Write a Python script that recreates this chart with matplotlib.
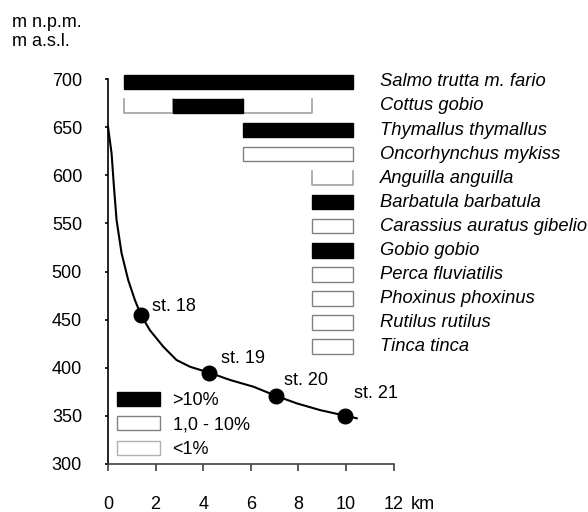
import matplotlib
matplotlib.use("Agg")
import matplotlib.pyplot as plt
from matplotlib.patches import Patch

plt.rcParams['font.family'] = ['Liberation Sans', 'DejaVu Sans']
plt.rcParams['font.size'] = 13

# ---- data ----
species = ["Salmo trutta m. fario", "Cottus gobio", "Thymallus thymallus",
           "Oncorhynchus mykiss", "Anguilla anguilla", "Barbatula barbatula",
           "Carassius auratus gibelio", "Gobio gobio", "Perca fluviatilis",
           "Phoxinus phoxinus", "Rutilus rutilus", "Tinca tinca"]
row_alt = [697, 672, 647, 622, 597, 572, 547, 522, 497, 472, 447, 422]
# segments: species index, start km, end km, abundance class
seg_species = [0, 1, 1, 1, 2, 3, 4, 5, 6, 7, 8, 9, 10, 11]
seg_start = [0.67, 0.67, 2.72, 5.66, 5.66, 5.66, 8.57, 8.57, 8.57, 8.57, 8.57, 8.57, 8.57, 8.57]
seg_end = [10.3, 2.72, 5.66, 8.57, 10.3, 10.3, 10.3, 10.3, 10.3, 10.3, 10.3, 10.3, 10.3, 10.3]
seg_class = [">10%", "<1%", ">10%", "<1%", ">10%", "1,0 - 10%", "<1%", ">10%",
             "1,0 - 10%", ">10%", "1,0 - 10%", "1,0 - 10%", "1,0 - 10%", "1,0 - 10%"]

curve_km = [0.0, 0.15, 0.25, 0.36, 0.57, 0.85, 1.13, 1.38, 1.76, 2.32, 2.88, 3.45,
            4.24, 5.13, 6.11, 7.04, 7.93, 8.91, 9.96, 10.45]
curve_alt = [650.4, 622.8, 588, 553.5, 519, 491, 470.4, 455, 439, 422, 408, 401,
             395, 387.3, 380.3, 371, 363, 356, 350.2, 347.5]
station_names = ["st. 18", "st. 19", "st. 20", "st. 21"]
station_km = [1.38, 4.24, 7.04, 9.96]
station_alt = [455, 395, 371, 350.2]
label_offsets = [(8.2, 2.6), (8.6, 7.2), (6.0, 7.7), (6.5, 12.7)]  # points

xticks = [0, 2, 4, 6, 8, 10, 12]
yticks = [300, 350, 400, 450, 500, 550, 600, 650, 700]

# ---- figure ----
fig = plt.figure(figsize=(5.88, 5.12), dpi=100)
ax = fig.add_axes([108/588, (512-464)/512, 285.6/588, 385/512])
ax.set_xlim(0, 12)
ax.set_ylim(300, 700)

bar_h = 15
styles = {">10%": dict(color="black", edgecolor="black"),
          "1,0 - 10%": dict(color="white", edgecolor="#808080"),
          "<1%": dict(color="white", edgecolor="#b0b0b0")}

for si, s, e, c in zip(seg_species, seg_start, seg_end, seg_class):
    y = row_alt[si]
    if c == "<1%":
        ax.barh(y, e - s, left=s, height=bar_h, color="white", linewidth=0, clip_on=False, zorder=2)
        ax.plot([s, s, e, e], [y + bar_h/2, y - bar_h/2, y - bar_h/2, y + bar_h/2],
                color="#a0a0a0", lw=1.2, clip_on=False, zorder=2)
    else:
        st = styles[c]
        ax.barh(y, e - s, left=s, height=bar_h, color=st["color"], edgecolor=st["edgecolor"],
                linewidth=1.0, clip_on=False, zorder=3)

for name, y in zip(species, row_alt):
    ax.text(11.43, y, name, style="italic", va="center", ha="left", fontsize=13.2, clip_on=False)

ax.plot(curve_km, curve_alt, color="black", lw=1.5, zorder=4, clip_on=False)
ax.plot(station_km, station_alt, "o", color="black", markersize=10.5, zorder=5, clip_on=False)
for n, x, y, off in zip(station_names, station_km, station_alt, label_offsets):
    ax.annotate(n, (x, y), xytext=off, textcoords="offset points", ha="left", va="baseline",
                fontsize=13)

# axes styling
for sp in ["top", "right"]:
    ax.spines[sp].set_visible(False)
ax.spines["left"].set_color("black")
ax.spines["bottom"].set_color("#404040")
ax.spines["left"].set_linewidth(1.2)
ax.spines["bottom"].set_linewidth(1.2)
ax.set_yticks(yticks)
ax.set_yticklabels([str(v) for v in yticks])
ax.set_xticks(xticks)
ax.set_xticklabels([str(v) for v in xticks])
ax.tick_params(axis="y", direction="out", length=2, pad=16.7, width=1.2)
ax.tick_params(axis="x", direction="out", length=5, pad=18, width=1.2, colors="#404040", labelcolor="black")
ax.annotate("km", xy=(12, 0), xycoords=("data", "axes fraction"), xytext=(12.2, -23),
            textcoords="offset points", ha="left", va="top", fontsize=13)

fig.text(12/588, 1 - 22.5/512, "m n.p.m.", ha="left", va="center", fontsize=13)
fig.text(12/588, 1 - 41/512, "m a.s.l.", ha="left", va="center", fontsize=13)

handles = [Patch(facecolor="black", edgecolor="black", label=">10%"),
           Patch(facecolor="white", edgecolor="#808080", label="1,0 - 10%"),
           Patch(facecolor="white", edgecolor="#b0b0b0", label="<1%")]
ax.legend(handles=handles, loc="upper left", bbox_to_anchor=(0.03, 0.187), frameon=False,
          handlelength=2.4, handleheight=0.8, handletextpad=0.7, labelspacing=0.4,
          borderpad=0, borderaxespad=0, fontsize=13)

fig.savefig("out.png", dpi=100)
